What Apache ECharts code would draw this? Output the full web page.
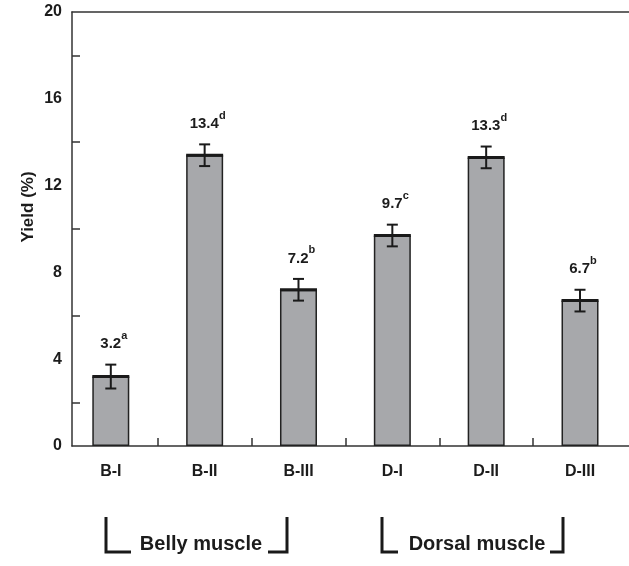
<!DOCTYPE html>
<html>
<head>
<meta charset="utf-8">
<script src="https://cdn.jsdelivr.net/npm/echarts@6/dist/echarts.min.js"></script>
<style>html,body{margin:0;padding:0;background:#fff}#c{width:629px;height:566px}</style>
</head>
<body>
<div id="c"></div>
<script>
const categories = ['B-I', 'B-II', 'B-III', 'D-I', 'D-II', 'D-III'];
const yieldValues = [3.2, 13.4, 7.2, 9.7, 13.3, 6.7];
const errorValues = [0.55, 0.5, 0.5, 0.5, 0.5, 0.5];
const letters = ['a', 'd', 'b', 'c', 'd', 'b'];
const yTickLabels = [0, 4, 8, 12, 16, 20];
const yMinorTicks = [2, 6, 10, 14, 18];
const groups = ['Belly muscle', 'Dorsal muscle'];

const FONT = '"Liberation Sans", Arial, sans-serif';
const TXT = '#1c1c1c';
const AX = '#333';

const chart = echarts.init(document.getElementById('c'), null, {renderer: 'canvas'});

const barData = categories.map((c, i) => [i, yieldValues[i]]);
const errData = categories.map((c, i) => [i, yieldValues[i], errorValues[i]]);

const xMin = -0.4135, xMax = 5.522;

function renderErr(params, api) {
  const i = api.value(0), m = api.value(1), e = api.value(2);
  const top = api.coord([i, m + e]);
  const bot = api.coord([i, m - e]);
  const mid = api.coord([i, m]);
  const cap = 5.5, half = 18.5;
  const ls = {stroke: '#1a1a1a', lineWidth: 2};
  const idx = params.dataIndex;
  return {
    type: 'group',
    children: [
      {type: 'line', shape: {x1: mid[0] - half, y1: mid[1], x2: mid[0] + half, y2: mid[1]}, style: {stroke: '#1a1a1a', lineWidth: 3}},
      {type: 'line', shape: {x1: top[0], y1: top[1], x2: bot[0], y2: bot[1]}, style: ls},
      {type: 'line', shape: {x1: top[0] - cap, y1: top[1], x2: top[0] + cap, y2: top[1]}, style: ls},
      {type: 'line', shape: {x1: bot[0] - cap, y1: bot[1], x2: bot[0] + cap, y2: bot[1]}, style: ls},
      {type: 'text', style: {
        text: '{v|' + yieldValues[idx].toFixed(1) + '}{s|' + letters[idx] + '}',
        x: top[0] + 3, y: top[1] - 13,
        align: 'center', verticalAlign: 'bottom',
        rich: {
          v: {fontSize: 15, fontWeight: 'bold', fontFamily: FONT, fill: TXT, color: TXT, verticalAlign: 'bottom', lineHeight: 21},
          s: {fontSize: 11, fontWeight: 'bold', fontFamily: FONT, fill: TXT, color: TXT, verticalAlign: 'top', lineHeight: 21}
        }
      }}
    ]
  };
}

function bracket(xl, xr, tx1, tx2, label, cx) {
  const y1 = 517, y2 = 552;
  return [
    {type: 'polyline', shape: {points: [[xl, y1], [xl, y2], [tx1, y2]]}, style: {stroke: '#1a1a1a', lineWidth: 3, fill: null}},
    {type: 'polyline', shape: {points: [[tx2, y2], [xr, y2], [xr, y1]]}, style: {stroke: '#1a1a1a', lineWidth: 3, fill: null}},
    {type: 'text', style: {text: label, x: cx, y: y2 + 2, align: 'center', verticalAlign: 'bottom', fontSize: 20, fontWeight: 'bold', fontFamily: FONT, fill: TXT}}
  ];
}

const option = {
  animation: false,
  backgroundColor: '#fff',
  grid: {left: 72, right: 0, top: 12, bottom: 120},
  xAxis: [{
    type: 'value', min: xMin, max: xMax,
    axisLine: {show: true, onZero: false, lineStyle: {color: AX, width: 1.5}},
    axisTick: {show: true, inside: true, length: 8, customValues: [0.5, 1.5, 2.5, 3.5, 4.5], lineStyle: {color: AX, width: 1.5}},
    axisLabel: {customValues: [0, 1, 2, 3, 4, 5], formatter: v => categories[Math.round(v)], fontSize: 16, fontWeight: 'bold', fontFamily: FONT, color: TXT, margin: 18},
    splitLine: {show: false}
  }, {
    type: 'value', min: xMin, max: xMax, position: 'top',
    axisLine: {show: true, onZero: false, lineStyle: {color: AX, width: 1.5}},
    axisTick: {show: false}, axisLabel: {show: false}, splitLine: {show: false}
  }],
  yAxis: {
    type: 'value', min: 0, max: 20, interval: 4,
    name: 'Yield (%)', nameLocation: 'middle', nameGap: 35, nameMoveOverlap: false,
    nameTextStyle: {fontSize: 17, fontWeight: 'bold', fontFamily: FONT, color: TXT, padding: [0, 0, 0, 44]},
    axisLine: {show: true, onZero: false, lineStyle: {color: AX, width: 1.5}},
    axisTick: {show: true, inside: true, length: 8, customValues: yMinorTicks, lineStyle: {color: AX, width: 1.5}},
    axisLabel: {customValues: yTickLabels, fontSize: 16, fontWeight: 'bold', fontFamily: FONT, color: TXT, margin: 10},
    splitLine: {show: false}
  },
  series: [{
    type: 'bar', data: barData, barWidth: 37,
    itemStyle: {color: '#a7a8ab', borderColor: '#222', borderWidth: 1.5},
    z: 2
  }, {
    type: 'custom', data: errData, renderItem: renderErr, z: 5,
    encode: {x: 0, y: 1}
  }],
  graphic: [
    ...bracket(106, 287, 131, 268, groups[0], 201),
    ...bracket(382, 563, 398, 550, groups[1], 477)
  ]
};
chart.setOption(option);
</script>
</body>
</html>
